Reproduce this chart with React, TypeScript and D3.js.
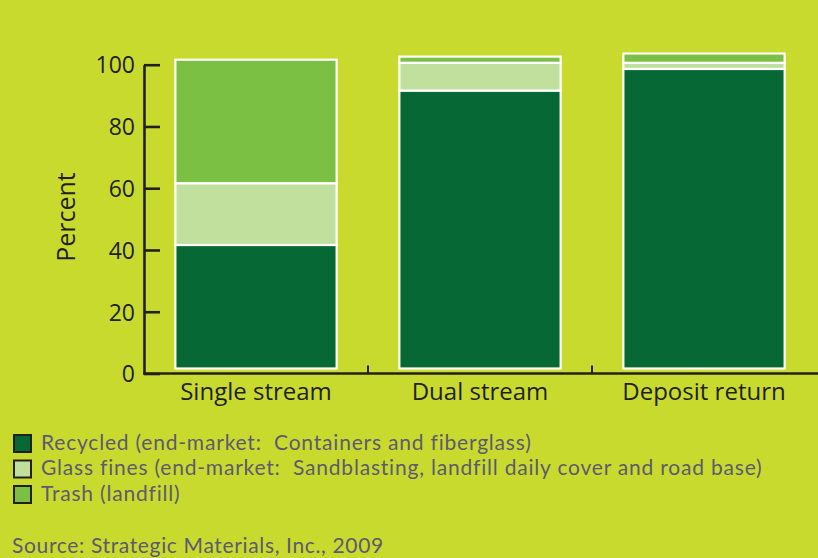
import React, { useRef, useEffect } from 'react';
import * as d3 from 'd3';

// categories and series (percent)
const categories = ['Single stream', 'Dual stream', 'Deposit return'];
const recycled = [40, 90, 97];
const glassFines = [20, 9, 2];
const trash = [40, 2, 3];
const yTicks = [0, 20, 40, 60, 80, 100];

const seriesNames = [
    'Recycled (end-market:  Containers and fiberglass)',
    'Glass fines (end-market:  Sandblasting, landfill daily cover and road base)',
    'Trash (landfill)'
];
const source = 'Source: Strategic Materials, Inc., 2009';

const BG = '#c8da2e';
const COLORS = ['#066835', '#c1e09d', '#7bc043'];
const INK = '#231f20';
const GREY = '#5c5b6f';
const FONT = '"Open Sans", "Noto Sans", sans-serif';
const LEG_FONT = 'Lato, "Open Sans", sans-serif';

const W = 818;
const H = 558;

const App: React.FC = () => {
    const svgRef = useRef<SVGSVGElement | null>(null);

    useEffect(() => {
        if (!svgRef.current) return;
        const svg = d3.select(svgRef.current);
        svg.selectAll('*').remove();

        svg.append('rect').attr('width', W).attr('height', H).attr('fill', BG);

        const x = d3.scaleBand<string>()
            .domain(categories)
            .range([144, 816])
            .padding(0);

        const y = d3.scaleLinear()
            .domain([0, 100])
            .range([373.5, 64.7]);

        const barW = x.bandwidth() * 0.72;
        const lift = 5; // bars sit slightly above the axis line

        const stack = d3.stack<number>()
            .keys(['0', '1', '2'])
            .value((i, key) => [recycled, glassFines, trash][+key][i]);
        const layers = stack(categories.map((_, i) => i));

        const g = svg.append('g');
        layers.forEach((layer, li) => {
            g.selectAll(`.seg-${li}`)
                .data(layer)
                .enter().append('rect')
                .attr('class', `seg-${li}`)
                .attr('x', (d, i) => (x(categories[i]) || 0) + (x.bandwidth() - barW) / 2)
                .attr('y', d => y(d[1]) - lift)
                .attr('width', barW)
                .attr('height', d => y(d[0]) - y(d[1]))
                .attr('fill', COLORS[li])
                .attr('stroke', '#fff')
                .attr('stroke-width', 2.2);
        });

        // Y axis
        const yAxis = svg.append('g')
            .attr('transform', 'translate(144,0)')
            .call(d3.axisLeft(y).tickValues(yTicks).tickSizeInner(-16).tickSizeOuter(0).tickPadding(9));
        yAxis.select('.domain').attr('stroke', INK).attr('stroke-width', 2.6);
        yAxis.selectAll('.tick line').attr('stroke', INK).attr('stroke-width', 2.6);
        yAxis.selectAll('.tick text')
            .attr('fill', INK)
            .attr('font-family', FONT)
            .attr('font-size', 23)
            .attr('dy', '0.36em');

        // X axis
        svg.append('line')
            .attr('x1', 143).attr('x2', W)
            .attr('y1', y(0)).attr('y2', y(0))
            .attr('stroke', INK).attr('stroke-width', 2.6);
        svg.selectAll('.xsep')
            .data(categories.slice(1))
            .enter().append('line')
            .attr('x1', d => x(d) || 0).attr('x2', d => x(d) || 0)
            .attr('y1', y(0)).attr('y2', y(0) - 8)
            .attr('stroke', INK).attr('stroke-width', 2);
        svg.selectAll('.xlab')
            .data(categories)
            .enter().append('text')
            .attr('x', d => (x(d) || 0) + x.bandwidth() / 2)
            .attr('y', 400)
            .attr('text-anchor', 'middle')
            .attr('fill', INK)
            .attr('font-family', FONT)
            .attr('font-size', 24)
            .text(d => d);

        // Y label
        svg.append('text')
            .attr('transform', 'translate(75,217) rotate(-90)')
            .attr('text-anchor', 'middle')
            .attr('fill', INK)
            .attr('font-family', FONT)
            .attr('font-size', 25)
            .text('Percent');

        // Legend
        const leg = svg.append('g');
        seriesNames.forEach((name, i) => {
            const row = leg.append('g').attr('transform', `translate(0,${434 + i * 25.5})`);
            row.append('rect')
                .attr('x', 14).attr('y', 1)
                .attr('width', 17).attr('height', 17)
                .attr('fill', COLORS[i])
                .attr('stroke', INK).attr('stroke-width', 2);
            row.append('text')
                .attr('x', 41).attr('y', 15.5)
                .attr('fill', GREY)
                .attr('font-family', LEG_FONT)
                .attr('font-size', 21)
                .attr('letter-spacing', 0.8)
                .style('white-space', 'pre')
                .text(name);
        });

        svg.append('text')
            .attr('x', 12).attr('y', 553)
            .attr('fill', GREY)
            .attr('font-family', LEG_FONT)
            .attr('font-size', 21)
            .attr('letter-spacing', 0.65)
            .text(source);
    }, []);

    return (
        <div>
            <style>{'body{margin:0}'}</style>
            <svg ref={svgRef} width={W} height={H} style={{ display: 'block' }} />
        </div>
    );
};

export default App;
